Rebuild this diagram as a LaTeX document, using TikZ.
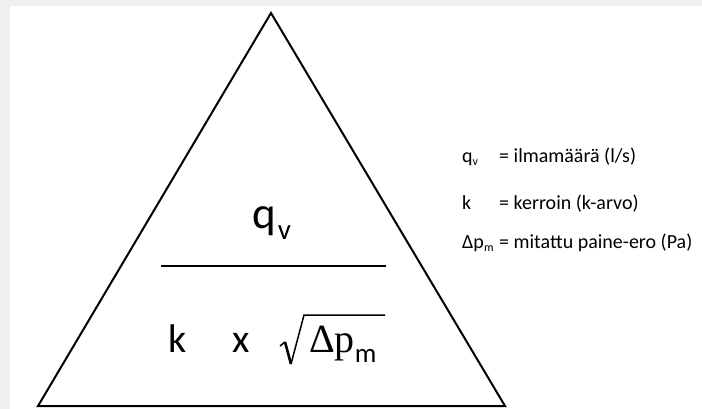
\documentclass[tikz,border=0pt]{standalone}
\usepackage{fontspec}
\setmainfont{Carlito}
\newfontfamily\deltafont{Liberation Serif}
\usetikzlibrary{positioning, calc}
\definecolor{pagegrey}{RGB}{240,240,240}
\newcommand{\lsub}[1]{\raisebox{-3pt}{\fontsize{12}{12}\selectfont #1}}

\begin{document}
\begin{tikzpicture}[x=1pt, y=-1pt,
    edge/.style={line width=2pt, line join=miter},
    radical/.style={line width=1.5pt, line join=miter},
    bigtext/.style={font=\fontsize{40}{44}\selectfont, inner sep=0pt, anchor=base west},
    legend/.style={font=\fontsize{20}{24}\selectfont, inner sep=0pt, anchor=base west}
  ]
  \fill[pagegrey] (0,0) rectangle (702,409);
  \fill[white] (10,6) rectangle (702,409);
  \useasboundingbox (0,0) rectangle (702,409);

  % triangle
  \coordinate (apex) at (271,13);
  \coordinate (lcorner) at (38,406);
  \coordinate (rcorner) at (505,406);
  \draw[edge] (apex) -- (rcorner) -- (lcorner) -- cycle;

  % fraction
  \coordinate (barl) at (161,266);
  \coordinate (barr) at (386,266);
  \draw[line width=2pt] (barl) -- (barr);

  \node[bigtext, font=\fontsize{45}{48}\selectfont] (qv) at (252,229)
    {q\hspace{2pt}\raisebox{-11pt}{\fontsize{29}{29}\selectfont v}};
  \node[bigtext] (k) at (168,352) {k};
  \node[bigtext] (times) at (232,352) {x};
  \node[bigtext] (dp) at (309,352)
    {{\deltafont Δp}\raisebox{-10pt}{\fontsize{27}{27}\selectfont m}};

  % square root sign
  \coordinate (r1) at (280,346);
  \coordinate (r2) at (285,342);
  \coordinate (r3) at (291,364);
  \coordinate (r4) at (304,315);
  \coordinate (r5) at (385,315);
  \draw[radical] (r1) -- (r2);
  \draw[line width=2.6pt] (r2) -- (r3);
  \draw[radical] (r3) -- (r4) -- (r5);

  % legend
  \foreach \y/\sym/\txt [count=\i] in {163/{q\lsub{v}}/{= ilmamäärä (l/s)},
      210/k/{= kerroin (k-arvo)},
      248/{Δp\lsub{m}}/{= mitattu paine-ero (Pa)}} {
    \node[legend] (sym\i) at (462,\y) {\sym};
    \node[legend] (txt\i) at (499,\y) {\txt};
  }
\end{tikzpicture}
\end{document}
